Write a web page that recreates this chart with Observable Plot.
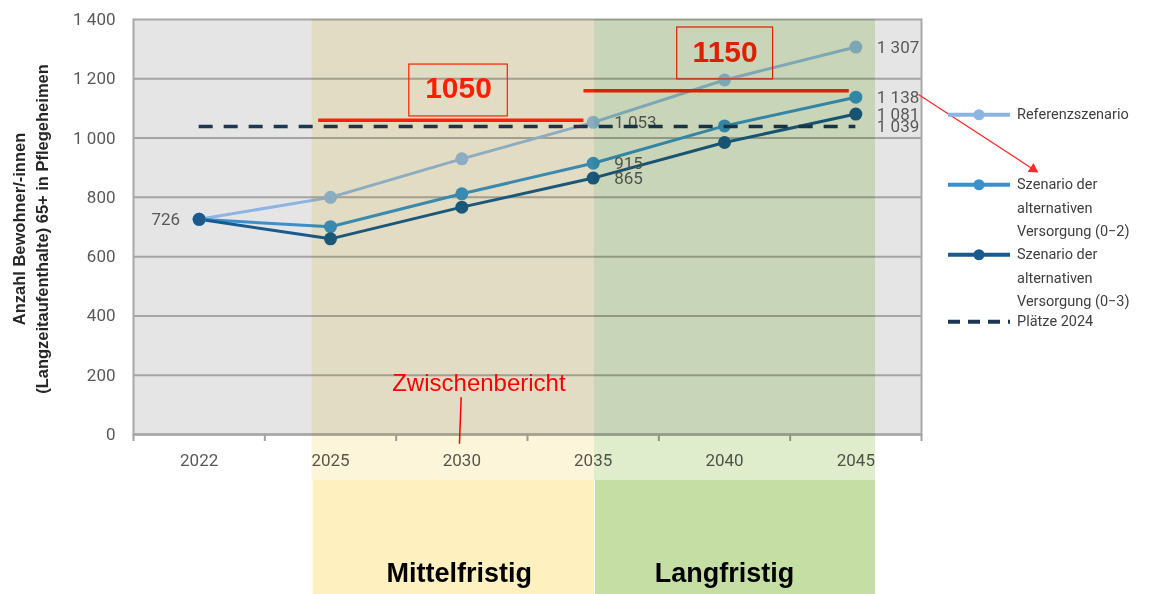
<!DOCTYPE html>
<html>
<head>
<meta charset="utf-8">
<script src="https://cdn.jsdelivr.net/npm/d3@7"></script>
<script src="https://cdn.jsdelivr.net/npm/@observablehq/plot@0.6"></script>
<style>
  html, body { margin:0; padding:0; background:#fff; }
  #wrap { position:relative; width:1159px; height:594px; overflow:hidden; font-family: Roboto, "Liberation Sans", sans-serif; background:#fff; isolation:isolate; }
  #wrap > svg { position:absolute; left:0; top:0; overflow:visible; }
  .leg { position:absolute; left:948px; }
  .leg svg { position:absolute; left:0; top:0; }
  .leg .t { position:absolute; left:69px; top:0; font-size:14.5px; line-height:23.5px; color:#404040; white-space:nowrap; }
</style>
</head>
<body>
<div id="wrap"></div>
<script>
// ---------- data ----------
const years = ["2022", "2025", "2030", "2035", "2040", "2045"];
const referenz = [726, 800, 930, 1053, 1196, 1307];
const alternative02 = [726, 701, 812, 915, 1041, 1138];
const alternative03 = [726, 660, 767, 865, 985, 1081];
const plaetze2024 = 1039;
const seriesNames = [
  "Referenzszenario",
  "Szenario der alternativen Versorgung (0−2)",
  "Szenario der alternativen Versorgung (0−3)"
];
const plaetzeName = "Plätze 2024";
const yTicks = [0, 200, 400, 600, 800, 1000, 1200, 1400];
const targetLabels = ["1050", "1150"];
const targetLevels = [1060, 1160];
const phaseNames = ["Mittelfristig", "Langfristig"];
const reportLabel = "Zwischenbericht";
const yTitle = ["Anzahl Bewohner/-innen", "(Langzeitaufenthalte) 65+ in Pflegeheimen"];
const legendLines = [
  ["Referenzszenario"],
  ["Szenario der", "alternativen", "Versorgung (0−2)"],
  ["Szenario der", "alternativen", "Versorgung (0−3)"],
  ["Plätze 2024"]
];

// ---------- styles ----------
const seriesColors = ["#8db4e2", "#3a8fcc", "#1b5a8d"];
const plaetzeColor = "#1c3754";
const labelColor = "#595959";
const gridColor = "#a5a5a5";
const red = "#ff2000";

const locale = d3.formatLocale({decimal: ",", thousands: "\u00a0", grouping: [3], currency: ["", ""]});
const fmt = locale.format(",d");

const seriesValues = [referenz, alternative02, alternative03];
const long = seriesValues.flatMap((vals, s) => vals.map((v, i) => ({i, value: v, series: seriesNames[s]})));

const lastI = years.length - 1;
const labelsStart = [
  ...[3, lastI].flatMap(i => seriesValues.map(vals => ({i, value: vals[i]}))),
  {i: lastI, value: plaetze2024}
];
const labelsEnd = [{i: 0, value: referenz[0]}];

// annotation layout (in scale units: x = category index, y = value)
const phases = [
  {name: phaseNames[0], x1: 0.86, x2: 3.01, labelX: 1.98, tint: "#fdf5da", box: "#fff0c0"},
  {name: phaseNames[1], x1: 3.01, x2: 5.15, labelX: 4.0, tint: "#e0edcd", box: "#c4dea4"}
];
const targets = [
  {label: targetLabels[0], level: targetLevels[0], x1: 0.91, x2: 2.93, bx1: 1.60, bx2: 2.35, by1: 1073, by2: 1248, ty: 1166},
  {label: targetLabels[1], level: targetLevels[1], x1: 2.93, x2: 4.95, bx1: 3.64, bx2: 4.37, by1: 1198, by2: 1373, ty: 1290}
];
const report = {x: 2.13, y: 172, lx1: 1.995, ly1: 126, lx2: 1.982, ly2: -31};
const arrow = {x1: 5.477, y1: 1147, x2: 6.35, y2: 895};

const boundaries = d3.range(-0.5, years.length, 1);

const chart = Plot.plot({
  width: 1159,
  height: 594,
  marginLeft: 133,
  marginRight: 238,
  marginTop: 19,
  marginBottom: 160,
  style: {fontFamily: "Roboto, sans-serif", background: "transparent", overflow: "visible"},
  x: {type: "linear", domain: [-0.5, years.length - 0.5], label: null},
  y: {domain: [0, 1400], label: null},
  color: {domain: seriesNames, range: seriesColors},
  marks: [
    Plot.frame({fill: "#e5e5e5", stroke: "none"}),
    Plot.ruleY(yTicks.filter(t => t > 0 && t < 1400), {stroke: gridColor, strokeWidth: 2}),
    Plot.ruleY([0], {stroke: "#a0a0a0", strokeWidth: 2.5}),
    Plot.axisX({ticks: boundaries, tickSize: 7, tickFormat: () => "", stroke: "#a0a0a0", strokeWidth: 2}),
    Plot.frame({stroke: "#a8a8a8", strokeWidth: 2, fill: "none"}),
    // series
    Plot.line(long, {x: "i", y: "value", z: "series", stroke: "series", strokeWidth: 3}),
    Plot.dot(long, {x: "i", y: "value", fill: "series", r: 6.5}),
    Plot.text(labelsStart, {x: "i", y: "value", text: d => fmt(d.value), textAnchor: "start", dx: 21, fontSize: 17, fill: labelColor}),
    Plot.text(labelsEnd, {x: "i", y: "value", text: d => fmt(d.value), textAnchor: "end", dx: -19, fontSize: 17, fill: labelColor}),
    Plot.ruleY([plaetze2024], {x1: 0, x2: lastI, stroke: plaetzeColor, strokeWidth: 3.5, strokeDasharray: "14,11"}),
    // axes
    Plot.axisY({ticks: yTicks, tickSize: 0, tickPadding: 18, tickFormat: fmt, fontSize: 17, fill: labelColor}),
    Plot.axisX({ticks: d3.range(years.length), tickSize: 0, tickPadding: 19, tickFormat: i => years[i], fontSize: 17, fill: labelColor}),
    // targets
    Plot.ruleY(targets, {y: "level", x1: "x1", x2: "x2", stroke: red, strokeWidth: 3.5}),
    Plot.rect(targets, {x1: "bx1", x2: "bx2", y1: "by1", y2: "by2", fill: "none", stroke: red, strokeWidth: 1.2}),
    Plot.text(targets, {x: d => (d.bx1 + d.bx2) / 2, y: "ty", text: "label", fill: red, fontSize: 30, fontWeight: "bold",
      fontFamily: "'Liberation Sans', Arial, sans-serif"}),
    // Zwischenbericht
    Plot.link([report], {x1: "lx1", y1: "ly1", x2: "lx2", y2: "ly2", stroke: "#ff0000", strokeWidth: 1.5}),
    Plot.text([report], {x: "x", y: "y", text: () => reportLabel, fill: "#ff0000", fontSize: 24,
      fontFamily: "'Liberation Sans', Arial, sans-serif"}),
    // phase tint (multiplied over everything in the columns)
    Plot.rect(phases, {x1: "x1", x2: "x2", y1: 1400, y2: -155, fill: "tint", mixBlendMode: "multiply"}),
    // phase boxes below
    Plot.rect(phases, {x1: "x1", x2: "x2", y1: -155, y2: -545, fill: "box", insetLeft: 1}),
    Plot.text(phases, {x: "labelX", y: -468, text: "name", fontSize: 27, fontWeight: "bold", fill: "#000",
      fontFamily: "'Liberation Sans', Arial, sans-serif"}),
    // arrow to legend
    Plot.link([arrow], {x1: "x1", y1: "y1", x2: "x2", y2: "y2", stroke: "#ff2a2a", strokeWidth: 1.3}),
    Plot.dot([arrow], {x: "x2", y: "y2", symbol: "triangle", r: 4, fill: "#ff2a2a", rotate: 123}),
    // y title
    Plot.text([yTitle.join("\n")], {frameAnchor: "left", text: d => d, rotate: -90, dx: -104, dy: 2, fontSize: 16.5,
      fontWeight: "bold", lineHeight: 1.4, fill: "#262626", textAnchor: "middle", lineAnchor: "middle",
      fontFamily: "'Liberation Sans', Arial, sans-serif"})
  ]
});

const wrap = document.getElementById("wrap");
wrap.appendChild(chart);

// ---------- legend ----------
const legendItems = [
  {lines: legendLines[0], color: seriesColors[0], y: 115, dashed: false},
  {lines: legendLines[1], color: seriesColors[1], y: 185, dashed: false},
  {lines: legendLines[2], color: seriesColors[2], y: 255, dashed: false},
  {lines: legendLines[3], color: plaetzeColor, y: 322, dashed: true}
];
for (const item of legendItems) {
  const div = document.createElement("div");
  div.className = "leg";
  div.style.top = (item.y - 11.75) + "px";
  const svg = d3.create("svg").attr("width", 64).attr("height", 24);
  svg.append("line").attr("x1", 0).attr("x2", 62).attr("y1", 11.75).attr("y2", 11.75)
    .attr("stroke", item.color).attr("stroke-width", 4)
    .attr("stroke-dasharray", item.dashed ? "12,8" : null);
  if (!item.dashed) svg.append("circle").attr("cx", 31).attr("cy", 11.75).attr("r", 5.5).attr("fill", item.color);
  div.appendChild(svg.node());
  const t = document.createElement("div");
  t.className = "t";
  t.innerHTML = item.lines.join("<br>");
  div.appendChild(t);
  wrap.appendChild(div);
}
</script>
</body>
</html>
